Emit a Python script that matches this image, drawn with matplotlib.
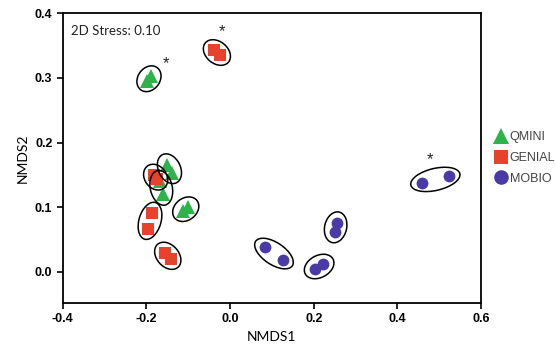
import matplotlib
matplotlib.use("Agg")
import matplotlib.pyplot as plt
import numpy as np
from matplotlib.patches import Ellipse
from matplotlib.transforms import IdentityTransform
from matplotlib.lines import Line2D

# NMDS coordinates (points come in pairs, one ellipse per pair)
qmini_x = [-0.198, -0.190, -0.150, -0.140, -0.168, -0.161, -0.112, -0.100]
qmini_y = [0.295, 0.302, 0.166, 0.153, 0.140, 0.120, 0.094, 0.100]
genial_x = [-0.039, -0.024, -0.182, -0.174, -0.186, -0.197, -0.156, -0.142]
genial_y = [0.343, 0.335, 0.150, 0.143, 0.091, 0.067, 0.030, 0.020]
mobio_x = [0.458, 0.524, 0.255, 0.250, 0.083, 0.127, 0.203, 0.223]
mobio_y = [0.138, 0.148, 0.076, 0.062, 0.038, 0.019, 0.005, 0.012]

star_x = [-0.154, -0.020, 0.478]
star_y = [0.322, 0.371, 0.174]

groups = ["QMINI", "GENIAL", "MOBIO"]
colors = ["#2db34a", "#e8412c", "#4a3aa6"]
markers = ["^", "s", "o"]
sizes = [9.5, 8, 8.5]
xs = [qmini_x, genial_x, mobio_x]
ys = [qmini_y, genial_y, mobio_y]

plt.rcParams["font.family"] = ["Liberation Sans", "DejaVu Sans"]

fig = plt.figure(figsize=(5.56, 3.52), dpi=100)
ax = fig.add_axes([0.113, 0.139, 0.752, 0.824])
ax.set_xlim(-0.4, 0.6)
ax.set_ylim(-0.048, 0.4)

for x, y, c, m, s in zip(xs, ys, colors, markers, sizes):
    ax.plot(x, y, ls="", marker=m, color=c, markersize=s, markeredgewidth=0, zorder=3)

fig.canvas.draw()

# ellipse around each pair, built in pixel space
for x, y in zip(xs, ys):
    pts = ax.transData.transform(np.column_stack([x, y]))
    for i in range(0, len(pts), 2):
        p1, p2 = pts[i], pts[i + 1]
        d = np.hypot(*(p2 - p1))
        ang = np.degrees(np.arctan2(p2[1] - p1[1], p2[0] - p1[0]))
        e = Ellipse((p1 + p2) / 2, d + 22, 22, angle=ang, fill=False,
                    edgecolor="black", linewidth=1.1, transform=IdentityTransform(), zorder=4)
        fig.add_artist(e)

for sx, sy in zip(star_x, star_y):
    ax.text(sx, sy, "*", ha="center", va="center", fontsize=12, color="#222222")

ax.text(0.02, 0.96, "2D Stress: 0.10", transform=ax.transAxes, ha="left", va="top",
        fontsize=9.5, family=["Lato", "DejaVu Sans"], color="#222222")

ax.set_xticks([-0.4, -0.2, 0.0, 0.2, 0.4, 0.6])
ax.set_yticks([0.0, 0.1, 0.2, 0.3, 0.4])
ax.set_xticklabels(["-0.4", "-0.2", "0.0", "0.2", "0.4", "0.6"])
ax.set_yticklabels(["0.0", "0.1", "0.2", "0.3", "0.4"])
ax.tick_params(labelsize=9, width=1.2, length=4, direction="out")
for lab in ax.get_xticklabels() + ax.get_yticklabels():
    lab.set_fontweight("bold")
for sp in ax.spines.values():
    sp.set_linewidth(1.3)

ax.set_xlabel("NMDS1", fontsize=10, family=["Lato", "DejaVu Sans"], labelpad=4)
ax.set_ylabel("NMDS2", fontsize=10, family=["Lato", "DejaVu Sans"], labelpad=4)

handles = [Line2D([], [], ls="", marker=m, color=c, markersize=s + 2, markeredgewidth=0)
           for c, m, s in zip(colors, markers, sizes)]
leg = ax.legend(handles, groups, loc="center left", bbox_to_anchor=(1.0, 0.5),
                frameon=False, fontsize=9, handletextpad=0.1, labelspacing=0.7,
                handlelength=1.2, borderaxespad=0.6)
for t in leg.get_texts():
    t.set_color("#444444")

fig.savefig("out.png", dpi=100)
